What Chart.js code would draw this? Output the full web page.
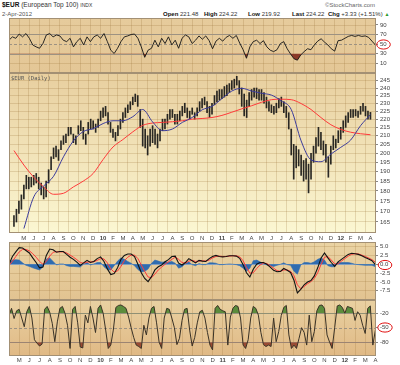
<!DOCTYPE html>
<html>
<head>
<meta charset="utf-8">
<title>$EUR (European Top 100)</title>
<script src="https://cdn.jsdelivr.net/npm/chart.js@4.4.1/dist/chart.umd.min.js"></script>
<style>
  html, body { margin: 0; padding: 0; background: #fff; }
  body { width: 400px; height: 365px; position: relative; overflow: hidden; font-family: "Liberation Sans", Arial, sans-serif; color: #333; }
  canvas { position: absolute; left: 0; }
  .t { position: absolute; white-space: nowrap; font-size: 6px; line-height: 8px; }
  .t b { color: #111; }
  svg { position: absolute; left: 0; top: 0; pointer-events: none; }
</style>
</head>
<body>
<div class="t" style="left:2px;top:1px;font-size:6.5px"><b>$EUR</b> (European Top 100) <span style="font-size:5px">INDX</span></div>
<div class="t" style="left:325px;top:1px;color:#666">©StockCharts.com</div>
<div class="t" style="left:2px;top:10px;color:#555">2-Apr-2012</div>
<div class="t" style="left:163px;top:10px"><b>Open</b> 221.48</div>
<div class="t" style="left:204px;top:10px"><b>High</b> 224.22</div>
<div class="t" style="left:248px;top:10px"><b>Low</b> 219.92</div>
<div class="t" style="left:292px;top:10px"><b>Last</b> 224.22</div>
<div class="t" style="left:328px;top:10px"><b>Chg</b> +3.33 (+1.51%) <span style="color:#2a9a2a;font-size:5px">▲</span></div>

<canvas id="rsi" width="400" height="67" style="top:12px"></canvas>
<canvas id="price" width="400" height="175" style="top:67px"></canvas>
<canvas id="macd" width="400" height="70" style="top:236px"></canvas>
<canvas id="wr" width="400" height="71" style="top:294px"></canvas>

<svg width="400" height="365"><g fill="none" stroke="#e01010" stroke-width="1">
  <ellipse cx="383.5" cy="44.5" rx="6.8" ry="4.6"/>
  <ellipse cx="385" cy="265" rx="6.8" ry="4.6"/>
  <ellipse cx="385" cy="327.5" rx="7.2" ry="4.6"/>
</g></svg>

<script>
// month ticks, Apr 2009 .. Apr 2012 (x axis is in months since 1 Apr 2009)
const MONTHS = ['', 'M', 'J', 'J', 'A', 'S', 'O', 'N', 'D', '10', 'F', 'M', 'A', 'M', 'J', 'J', 'A', 'S', 'O', 'N', 'D',
  '11', 'F', 'M', 'A', 'M', 'J', 'J', 'A', 'S', 'O', 'N', 'D', '12', 'F', 'M', 'A'];
const X_MAX = 36.06;

const PRICE_TICKS = [165, 170, 175, 180, 185, 190, 195, 200, 205, 210, 215, 220, 225, 230, 235, 240, 245];
const RSI_TICKS = [10, 30, 50, 70, 90];
const MACD_TICKS = [-7.5, -5, -2.5, 0, 2.5, 5];
const WR_TICKS = [-80, -50, -20];

// price high / low, one bar per quarter month
const PRICE_HI = [168,171,175,178,183,188,187,187,188,189,
  187,184,182,185,191,198,203,204,202,207,
  210,211,215,215,211,210,216,219,215,211,
  218,220,219,217,220,225,227,228,224,218,
  214,212,216,220,224,227,229,231,234,236,
  235,226,220,214,210,214,216,214,211,214,
  220,220,223,226,226,223,223,225,228,230,
  227,225,227,224,227,231,233,234,231,228,
  230,235,238,239,239,241,242,243,245,246,
  248,245,240,236,232,237,239,240,240,239,
  239,237,234,231,229,228,230,233,234,231,
  228,224,214,205,204,202,199,196,197,194,
  200,204,209,215,212,207,205,198,204,210,
  208,213,215,219,222,224,226,226,226,225,
  228,230,228,225,224.2];
const PRICE_LO = [163,165,169,171,176,181,181,182,183,184,
  181,178,176,177,184,191,197,198,196,202,
  205,206,210,211,206,205,211,213,208,205,
  211,214,214,212,215,219,221,222,217,212,
  209,207,210,214,218,221,224,226,229,231,
  228,215,204,203,199,204,206,205,203,207,
  213,214,217,220,221,217,217,219,222,224,
  221,220,223,220,222,225,227,229,224,221,
  223,229,231,232,233,234,235,237,239,240,
  242,236,228,222,221,228,232,234,233,232,
  232,230,227,225,224,223,224,227,228,224,
  221,214,199,186,192,193,188,185,186,179,
  186,195,200,204,202,199,195,187,194,202,
  203,206,208,212,215,218,221,221,222,221,
  223,225,222,220,219.9];

// moving averages, one value per month
const MA50 = [null,162,177,182.5,187.5,198,207,212.5,214.2,217.3,219,219,221.5,226,218.3,213,214,218,221,225.8,
  228,233,238,239.8,238,236.5,235.3,231.5,226,207,196.3,195.3,199.5,203.3,207.5,216,222.8];
const MA200 = [201.5,193.5,187,182,178.3,178.8,182,185,189,196.5,203.5,207.8,212.3,216.2,217.6,218,218.4,219,220,220.4,
  221,222.3,224.3,226.4,228.4,230.6,232.3,232.6,232.3,229.8,226,221,216.6,213.8,212.1,211.2,210.6];

// indicators, one value per third of a month
const RSI = [58,65,62,71,65,72,62,48,44,41,
  51,69,72,65,69,67,58,55,62,44,
  55,62,48,65,55,65,69,62,72,55,
  37,30,41,55,65,67,70,71,62,44,
  22,37,41,58,44,62,51,65,48,58,
  41,62,69,65,51,58,67,60,67,57,
  40,56,62,56,64,68,62,68,52,38,
  20,44,55,58,51,57,44,37,34,38,
  51,55,40,29,19,16,27,34,40,38,
  48,56,61,54,48,40,35,57,58,62,
  66,68,66,68,66,67,64,56,48];
const MACD = [0.0,2.2,3.5,4.7,4.6,3.9,3.2,1.8,0.5,-1.0,
  -0.8,2.5,4.3,4.1,3.4,3.6,3.6,2.8,2.0,1.4,
  0.6,-0.3,0.4,1.1,0.5,0.8,1.6,2.1,0.8,-1.3,
  -2.9,-2.6,-1.0,1.4,2.5,2.9,2.9,2.2,0.0,-2.4,
  -4.0,-4.9,-3.5,-1.6,-0.7,-0.2,0.7,1.3,2.2,2.3,
  0.3,-0.2,0.5,1.6,1.0,0.4,1.1,0.9,0.8,1.6,
  2.2,2.5,2.2,2.1,2.2,2.4,2.4,2.3,1.7,-0.1,
  -2.4,-3.6,-1.4,0.0,0.5,0.5,0.0,-0.8,-1.7,-2.1,
  -2.0,-1.2,-1.7,-2.3,-4.5,-8.1,-7.1,-5.8,-5.0,-4.6,
  -3.3,-1.0,1.8,3.2,1.8,0.5,-0.6,0.7,1.4,2.1,
  2.8,3.1,3.0,2.8,2.4,1.9,1.5,1.0,-0.1];
const SIGNAL = [-0.3,0.8,2.2,3.5,4.2,4.2,3.8,3.0,2.0,0.8,
  0.0,0.8,2.3,3.4,3.6,3.5,3.5,3.2,2.6,2.0,
  1.3,0.5,0.3,0.6,0.7,0.7,1.1,1.6,1.5,0.4,
  -1.3,-2.2,-1.9,-0.6,1.0,2.0,2.6,2.6,1.6,-0.2,
  -2.0,-3.6,-3.8,-2.8,-1.6,-0.8,0.0,0.7,1.4,2.0,
  1.4,0.5,0.3,0.9,1.1,0.8,0.9,1.0,0.9,1.2,
  1.8,2.2,2.3,2.2,2.2,2.3,2.4,2.4,2.1,1.0,
  -0.9,-2.5,-2.4,-1.2,-0.2,0.3,0.2,-0.4,-1.1,-1.8,
  -2.0,-1.6,-1.6,-2.0,-3.2,-5.8,-6.9,-6.3,-5.5,-4.9,
  -4.0,-2.4,0.0,2.0,2.2,1.2,0.1,0.1,0.9,1.6,
  2.3,2.8,3.0,2.9,2.6,2.2,1.8,1.3,0.6];
const HIST = [0.3,1.2,1.3,1.2,0.4,-0.3,-0.6,-1.0,-1.3,-1.6,
  -0.8,1.5,1.8,0.8,-0.2,0.1,0.1,-0.4,-0.6,-0.6,
  -0.7,-0.8,0.1,0.5,-0.2,0.1,0.5,0.5,-0.7,-1.5,
  -1.6,-0.4,0.9,1.8,1.4,0.8,0.3,-0.4,-1.5,-2.2,
  -2.0,-1.3,0.3,1.2,0.9,0.6,0.7,0.6,0.8,0.3,
  -1.1,-0.7,0.2,0.7,-0.1,-0.4,0.2,-0.1,-0.1,0.4,
  0.4,0.3,-0.1,-0.1,0.0,0.1,0.0,-0.1,-0.4,-1.1,
  -2.0,-1.1,1.0,1.2,0.7,0.2,-0.2,-0.4,-0.6,-0.3,
  0.0,0.4,-0.1,-0.3,-2.0,-2.8,-0.2,0.5,0.5,0.3,
  0.7,1.4,1.8,1.2,-0.4,-0.7,-0.7,0.6,0.5,0.5,
  0.5,0.3,0.0,-0.1,-0.2,-0.3,-0.3,-0.3,-0.7];

// williams %R, one value per quarter month
const WR = [-24,-10,-31,-15,-12,-30,-48,-17,-6,-30,
  -75,-82,-88,-84,-12,-6,-18,-41,-79,-38,
  -10,-6,-20,-45,-93,-12,-6,-40,-90,-92,
  -24,-40,-6,-30,-60,-10,-3,-20,-55,-93,
  -86,-55,-8,-4,-3,-6,-10,-28,-50,-70,
  -86,-89,-93,-45,-65,-30,-10,-6,-40,-80,
  -93,-30,-10,-12,-30,-50,-85,-72,-35,-12,
  -10,-55,-88,-70,-40,-17,-14,-30,-60,-86,
  -96,-10,-4,-12,-15,-17,-86,-28,-10,-4,
  -6,-30,-86,-93,-75,-30,-6,-10,-24,-60,
  -85,-89,-86,-89,-30,-79,-58,-25,-8,-4,
  -65,-93,-86,-93,-72,-50,-60,-86,-24,-79,
  -58,-15,-4,-3,-10,-65,-80,-93,-50,-5,
  -3,-8,-20,-6,-8,-10,-35,-17,-24,-45,
  -62,-10,-5,-86,-55];

const GRID = 'rgba(150,110,50,0.22)';
const REF = '#9d9282';
const AXIS_FONT = { family: 'Liberation Sans, Arial, sans-serif', size: 6 };
const CLEAR = 'rgba(0,0,0,0)';

function pts(arr, step) { return arr.map((v, i) => ({ x: i * step, y: v })); }

// panel background, reference lines, border, title
const panel = {
  id: 'panel',
  beforeDraw(chart, args, o) {
    const { ctx, chartArea: a } = chart;
    const g = ctx.createLinearGradient(0, a.top, 0, a.bottom);
    g.addColorStop(0, o.top); g.addColorStop(1, o.bottom);
    ctx.save(); ctx.fillStyle = g;
    ctx.fillRect(a.left, a.top, a.right - a.left, a.bottom - a.top);
    ctx.restore();
  },
  beforeDatasetsDraw(chart, args, o) {
    const { ctx, chartArea: a } = chart, y = chart.scales.y;
    (o.lines || []).forEach(l => {
      const py = Math.round(y.getPixelForValue(l.v)) + 0.5;
      ctx.save(); ctx.strokeStyle = l.c; ctx.lineWidth = 1; ctx.setLineDash(l.dash || []);
      ctx.beginPath(); ctx.moveTo(a.left, py); ctx.lineTo(a.right, py); ctx.stroke();
      ctx.restore();
    });
  },
  afterDraw(chart, args, o) {
    const { ctx, chartArea: a } = chart;
    ctx.save(); ctx.strokeStyle = '#a39074'; ctx.lineWidth = 1;
    ctx.strokeRect(a.left + 0.5, a.top + 0.5, a.right - a.left - 1, a.bottom - a.top - 1);
    if (o.title) {
      ctx.fillStyle = '#555'; ctx.font = '5.5px "DejaVu Sans Mono", monospace';
      ctx.fillText(o.title, a.left + 2, a.top + 7);
    }
    ctx.restore();
  }
};

function xAxis(labels) {
  return {
    type: 'linear', min: 0, max: X_MAX,
    afterBuildTicks: s => { s.ticks = MONTHS.map((m, i) => ({ value: i })); },
    afterFit: s => { s.height = labels ? 9 : 0; },
    ticks: {
      display: !!labels, autoSkip: false, maxRotation: 0, padding: labels === 'bottom' ? 1 : 2, color: '#444',
      font: c => ({ ...AXIS_FONT, weight: /\d/.test(MONTHS[c.tick ? c.tick.value : 0] || '') ? 'bold' : 'normal' }),
      callback: v => MONTHS[v]
    },
    grid: { color: GRID, drawTicks: false },
    border: { display: false }
  };
}

function yAxis(min, max, ticks, fmt, type, gridOn) {
  return {
    type: type || 'linear', position: 'right', min, max,
    afterBuildTicks: s => { s.ticks = ticks.map(v => ({ value: v })); },
    afterFit: s => { s.width = 24; },
    ticks: { color: '#444', font: AXIS_FONT, padding: 2, autoSkip: false, callback: fmt },
    grid: { color: GRID, drawOnChartArea: gridOn, tickLength: 2, tickColor: '#888' },
    border: { display: false }
  };
}

function opts(cfg) {
  return {
    responsive: false, animation: false, devicePixelRatio: 1, events: [],
    layout: { padding: { left: 9, right: 0, top: 6, bottom: cfg.bottomPad } },
    elements: { point: { radius: 0 }, line: { borderWidth: 1 } },
    plugins: { legend: { display: false }, tooltip: { enabled: false }, panel: cfg.panel },
    scales: { x: xAxis(cfg.labels), y: cfg.y }
  };
}

new Chart(document.getElementById('rsi'), {
  type: 'line',
  data: { datasets: [{
    data: pts(RSI, 1 / 3), borderColor: '#141414', borderWidth: 0.9,
    fill: { target: { value: 30 }, above: CLEAR, below: '#8b3a28' }
  }] },
  options: opts({
    bottomPad: 6, labels: false,
    y: yAxis(-11, 104.7, RSI_TICKS, v => String(v), 'linear', false),
    panel: { top: '#e6cb9c', bottom: '#e4c796', lines: [
      { v: 90, c: GRID }, { v: 10, c: GRID },
      { v: 70, c: REF }, { v: 30, c: REF }, { v: 50, c: REF, dash: [3, 2] }] }
  }),
  plugins: [panel]
});

new Chart(document.getElementById('price'), {
  type: 'bar',
  data: { datasets: [
    { type: 'line', data: pts(MA50, 1), borderColor: '#3c3c9c', borderWidth: 1, cubicInterpolationMode: 'monotone', order: 1 },
    { type: 'line', data: pts(MA200, 1), borderColor: '#ff3a3a', borderWidth: 1, cubicInterpolationMode: 'monotone', order: 2 },
    { type: 'bar', data: PRICE_HI.map((h, i) => ({ x: i / 4, y: [PRICE_LO[i], h] })),
      backgroundColor: 'rgba(20,20,20,0.9)', barThickness: 1, grouped: false, order: 3 }
  ] },
  options: opts({
    bottomPad: 0, labels: 'top',
    y: yAxis(160, 250.3, PRICE_TICKS, v => String(v), 'logarithmic', true),
    panel: { top: '#e8cf9f', bottom: '#fbf7d2', title: '$EUR (Daily)' }
  }),
  plugins: [panel]
});

new Chart(document.getElementById('macd'), {
  type: 'line',
  data: { datasets: [
    { data: pts(MACD, 1 / 3), borderColor: '#111', borderWidth: 1.1, order: 1 },
    { data: pts(SIGNAL, 1 / 3), borderColor: '#ff3b3b', borderWidth: 1, order: 2 },
    { data: pts(HIST, 1 / 3), borderColor: '#2f6cb0', borderWidth: 0.6, backgroundColor: '#2f6cb0', fill: 'origin', order: 3 }
  ] },
  options: opts({
    bottomPad: 6, labels: false,
    y: yAxis(-10.1, 6.3, MACD_TICKS, v => v.toFixed(1), 'linear', true),
    panel: { top: '#ead3a3', bottom: '#e2c391', lines: [{ v: 0, c: '#9fb1c6' }] }
  }),
  plugins: [panel]
});

new Chart(document.getElementById('wr'), {
  type: 'line',
  data: { datasets: [
    { data: pts(WR, 1 / 4), borderColor: '#3a3226', borderWidth: 1,
      fill: { target: { value: -20 }, above: '#5b8c3c', below: CLEAR }, order: 1 },
    { data: pts(WR, 1 / 4), borderColor: CLEAR, borderWidth: 0,
      fill: { target: { value: -80 }, above: CLEAR, below: '#9a4b33' }, order: 2 }
  ] },
  options: opts({
    bottomPad: 0, labels: 'bottom',
    y: yAxis(-108.6, 7.3, WR_TICKS, v => String(v), 'linear', false),
    panel: { top: '#e9d1a2', bottom: '#e0b985', lines: [
      { v: -20, c: REF }, { v: -80, c: REF }, { v: -50, c: REF, dash: [3, 2] }] }
  }),
  plugins: [panel]
});
</script>
</body>
</html>
